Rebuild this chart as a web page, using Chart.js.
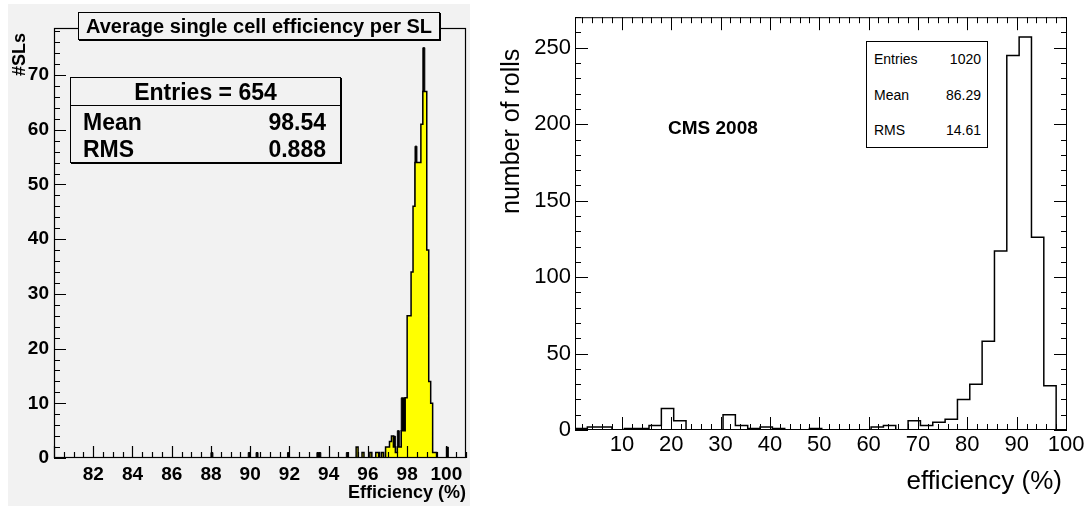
<!DOCTYPE html>
<html>
<head>
<meta charset="utf-8">
<script src="https://cdn.jsdelivr.net/npm/chart.js@4.4.1/dist/chart.umd.min.js"></script>
<style>
  body { margin:0; width:1092px; height:507px; background:#fff; position:relative; overflow:hidden; font-family:"Liberation Sans", Arial, sans-serif; }
  #leftPanel { position:absolute; left:8px; top:4px; width:462px; height:502px; background:#f2f2f2; }
  #rightPanel { position:absolute; left:480px; top:0; width:612px; height:507px; }
  canvas { position:absolute; left:0; top:0; }
  .txt { position:absolute; white-space:nowrap; color:#000; }
  .rot { transform-origin:0 0; transform:rotate(-90deg); }
  .box { position:absolute; border:1px solid #000; box-sizing:border-box; }
  .st { font-weight:bold; font-size:23px; line-height:26px; }
  .nar { font-size:14px; font-family:'Liberation Sans Narrow','Liberation Sans',sans-serif; }
</style>
</head>
<body>
<div id="leftPanel"><canvas id="leftChart" width="462" height="502"></canvas></div>
<div id="rightPanel"><canvas id="rightChart" width="612" height="507"></canvas></div>

<!-- left panel texts -->
<div class="box" style="left:78px;top:12px;width:362px;height:28px;background:#f2f2f2;box-shadow:1px 1px 0 #000;">
  <div class="txt" style="left:0;right:0;top:0;line-height:26px;text-align:center;font-weight:bold;font-size:20px;">Average single cell efficiency per SL</div>
</div>
<div class="box" style="left:70px;top:77px;width:271px;height:86px;background:#f2f2f2;box-shadow:1px 1px 0 #000;">
  <div class="txt st" style="left:0;right:0;top:0;height:27px;line-height:28px;text-align:center;border-bottom:1px solid #000;">Entries = 654</div>
  <div class="txt st" style="left:12px;top:31px;">Mean</div>
  <div class="txt st" style="right:14px;top:31px;">98.54</div>
  <div class="txt st" style="left:12px;top:58px;">RMS</div>
  <div class="txt st" style="right:14px;top:58px;">0.888</div>
</div>
<div class="txt rot" style="left:9px;top:76px;line-height:20px;font-weight:bold;font-size:18px;">#SLs</div>
<div class="txt" style="right:626px;top:481px;line-height:22px;font-weight:bold;font-size:18px;">Efficiency (%)</div>

<!-- right panel texts -->
<div class="txt" style="left:668px;top:117px;line-height:22px;font-weight:bold;font-size:19px;">CMS 2008</div>
<div class="box" style="left:866px;top:41px;width:122px;height:107px;background:#fff;">
  <div class="txt nar" style="left:7px;top:9px;">Entries</div>
  <div class="txt nar" style="right:6px;top:9px;">1020</div>
  <div class="txt nar" style="left:7px;top:45px;">Mean</div>
  <div class="txt nar" style="right:6px;top:45px;">86.29</div>
  <div class="txt nar" style="left:7px;top:80px;">RMS</div>
  <div class="txt nar" style="right:6px;top:80px;">14.61</div>
</div>
<div class="txt rot" style="left:496px;top:214px;line-height:28px;font-size:25px;">number of rolls</div>
<div class="txt" style="right:30px;top:465px;line-height:30px;font-size:26px;">efficiency (%)</div>

<script>
// left histogram: 0.1 wide bins from 80 to 101, only non-empty bins listed
const leftBinStart = 80
const leftBinWidth = 0.1
const leftBinCount = 210
const leftYellowEdges = [95.4, 95.7, 96.1, 96.4, 96.5, 96.7, 96.9, 97.0, 97.1, 97.2, 97.3, 97.4, 97.5, 97.6, 97.7, 97.8,
  97.9, 98.0, 98.1, 98.2, 98.3, 98.4, 98.5, 98.6, 98.7, 98.8, 98.9, 99.0, 99.1, 99.2, 99.3, 99.4]
const leftYellowCounts = [2, 1, 1, 1, 1, 1, 2, 2, 3, 4, 2, 1, 2, 2, 5, 5,
  11, 26, 26, 34, 46, 54, 54, 54, 61, 67, 67, 38, 14, 10, 1, 1]
const leftBlackEdges = [88.0, 89.9, 90.3, 91.9, 93.4, 93.5, 94.9, 97.3, 97.5, 97.7, 97.8, 98.4, 98.8, 100.0]
const leftBlackCounts = [1, 1, 1, 1, 1, 1, 1, 4, 5, 11, 11, 57, 75, 2]
const leftXTicks = [82, 84, 86, 88, 90, 92, 94, 96, 98, 100]
const leftYTicks = [0, 10, 20, 30, 40, 50, 60, 70]

// right histogram: 40 bins of 2.5 from 0.5 to 100.5
const rightBinStart = 0.5
const rightBinWidth = 2.5
const rightCounts = [1, 2, 2, 0, 1, 1, 3, 14, 6, 0,
  0, 0, 10, 3, 1, 2, 1, 0, 0, 1,
  0, 0, 0, 0, 2, 3, 0, 6, 3, 5,
  7, 20, 30, 58, 117, 245, 257, 126, 29, 0]
const rightXTicks = [10, 20, 30, 40, 50, 60, 70, 80, 90, 100]
const rightYTicks = [0, 50, 100, 150, 200, 250]

function fillBins(n, start, width, edges, counts) {
    const arr = new Array(n).fill(0)
    edges.forEach((e, i) => { arr[Math.round((e - start) / width)] = counts[i] })
    return arr
}

function histPoints(start, width, counts) {
    const pts = counts.map((c, i) => ({ x: start + i * width, y: c }))
    pts.push({ x: start + counts.length * width, y: 0 })
    return pts
}

// ROOT style frame with ticks pointing inside
const rootAxes = {
    id: 'rootAxes',
    afterDatasetsDraw(chart, args, o) {
        const { ctx, chartArea: a, scales: { x, y } } = chart
        ctx.save()
        ctx.strokeStyle = '#000'
        ctx.lineWidth = o.lineWidth
        ctx.beginPath()
        const isMajor = (v, step) => Math.abs(v / step - Math.round(v / step)) < 1e-6
        for (let k = Math.ceil(x.min / o.xMinor - 1e-9); k * o.xMinor <= x.max + 1e-9; k++) {
            const v = k * o.xMinor
            const px = Math.round(x.getPixelForValue(v)) + 0.5
            const len = isMajor(v, o.xMajor) ? o.majorLen : o.minorLen
            ctx.moveTo(px, a.bottom); ctx.lineTo(px, a.bottom - len)
            if (o.mirror) { ctx.moveTo(px, a.top); ctx.lineTo(px, a.top + len) }
        }
        for (let k = Math.ceil(y.min / o.yMinor - 1e-9); k * o.yMinor <= y.max + 1e-9; k++) {
            const v = k * o.yMinor
            const py = Math.round(y.getPixelForValue(v)) + 0.5
            const len = isMajor(v, o.yMajor) ? o.majorLen : o.minorLen
            ctx.moveTo(a.left, py); ctx.lineTo(a.left + len, py)
            if (o.mirror) { ctx.moveTo(a.right, py); ctx.lineTo(a.right - len, py) }
        }
        ctx.stroke()
        ctx.strokeRect(a.left + 0.5, a.top + 0.5, a.width - 1, a.height - 1)
        ctx.restore()
    }
}

Chart.defaults.font.family = "'Liberation Sans', Arial, sans-serif"
Chart.defaults.color = '#000'

function makeScale(min, max, tickValues, font, padding, size, isX) {
    return {
        type: 'linear',
        min: min,
        max: max,
        grid: { display: false, drawTicks: false },
        border: { display: false },
        ticks: { font: font, padding: padding, autoSkip: false, maxRotation: 0, color: '#000' },
        afterBuildTicks: s => { s.ticks = tickValues.map(v => ({ value: v })) },
        afterFit: s => { if (isX) s.height = size; else s.width = size }
    }
}

const leftYellow = fillBins(leftBinCount, leftBinStart, leftBinWidth, leftYellowEdges, leftYellowCounts)
const leftBlack = fillBins(leftBinCount, leftBinStart, leftBinWidth, leftBlackEdges, leftBlackCounts)

new Chart(document.getElementById('leftChart'), {
    type: 'line',
    data: {
        datasets: [{
            data: histPoints(leftBinStart, leftBinWidth, leftYellow),
            stepped: 'before',
            borderColor: '#000',
            borderWidth: 1.5,
            backgroundColor: '#ffff00',
            fill: 'origin',
            pointRadius: 0
        }, {
            data: histPoints(leftBinStart, leftBinWidth, leftBlack),
            stepped: 'before',
            borderColor: '#000',
            borderWidth: 1,
            backgroundColor: '#000',
            fill: 'origin',
            pointRadius: 0
        }]
    },
    options: {
        responsive: false,
        animation: false,
        devicePixelRatio: 1,
        layout: { padding: { top: 24, right: 4, left: 0, bottom: 0 } },
        plugins: {
            legend: { display: false },
            tooltip: { enabled: false },
            rootAxes: { xMajor: 2, xMinor: 0.5, yMajor: 10, yMinor: 2, majorLen: 12, minorLen: 6, mirror: false, lineWidth: 1.2 }
        },
        scales: {
            x: makeScale(80, 101, leftXTicks, { size: 19, weight: 'bold' }, 5, 48, true),
            y: makeScale(0, 78.6, leftYTicks, { size: 19, weight: 'bold' }, 5, 46, false)
        }
    },
    plugins: [rootAxes]
})

new Chart(document.getElementById('rightChart'), {
    type: 'line',
    data: {
        datasets: [{
            data: histPoints(rightBinStart, rightBinWidth, rightCounts),
            stepped: 'before',
            borderColor: '#000',
            borderWidth: 1.5,
            fill: false,
            pointRadius: 0
        }]
    },
    options: {
        responsive: false,
        animation: false,
        devicePixelRatio: 1,
        layout: { padding: { top: 16, right: 25, left: 0, bottom: 0 } },
        plugins: {
            legend: { display: false },
            tooltip: { enabled: false },
            rootAxes: { xMajor: 10, xMinor: 2, yMajor: 50, yMinor: 10, majorLen: 13, minorLen: 6, mirror: true, lineWidth: 1 }
        },
        scales: {
            x: makeScale(0.5, 100.2, rightXTicks, { size: 22 }, 2, 77, true),
            y: makeScale(0, 270, rightYTicks, { size: 22 }, 4, 95, false)
        }
    },
    plugins: [rootAxes]
})
</script>
</body>
</html>
